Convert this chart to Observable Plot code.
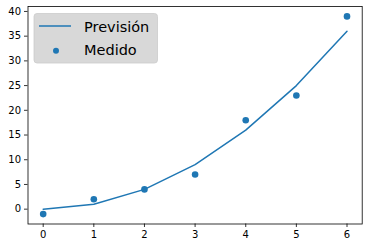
<!DOCTYPE html>
<html><head><meta charset="utf-8">
<script src="https://cdn.jsdelivr.net/npm/d3@7"></script>
<script src="https://cdn.jsdelivr.net/npm/@observablehq/plot@0.6"></script>
<style>
html,body{margin:0;padding:0;background:#fff;}
#chart{position:relative;width:368px;height:248px;}
</style>
</head><body><div id="chart"></div>
<script>
const xs = [0, 1, 2, 3, 4, 5, 6];
const prevision = [0, 1, 4, 9, 16, 25, 36];
const medido = [-1, 2, 4, 7, 18, 23, 39];
const xTicks = [0, 1, 2, 3, 4, 5, 6];
const yTicks = [0, 5, 10, 15, 20, 25, 30, 35, 40];
const seriesNames = ["Previsión", "Medido"];

const lineData = xs.map((x, i) => ({x, y: prevision[i]}));
const dotData = xs.map((x, i) => ({x, y: medido[i]}));
const blue = "#1f77b4";

const plot = Plot.plot({
  width: 368, height: 248,
  marginLeft: 27.5, marginRight: 6.3, marginTop: 6, marginBottom: 24.5,
  style: {fontFamily: "DejaVu Sans", fontSize: "10px", color: "#000", background: "#fff"},
  x: {domain: [-0.3, 6.3], label: null},
  y: {domain: [-3, 41], label: null},
  marks: [
    Plot.line(lineData, {x: "x", y: "y", stroke: blue, strokeWidth: 1.5}),
    Plot.dot(dotData, {x: "x", y: "y", fill: blue, r: 3.3}),
    Plot.frame({stroke: "#000", strokeWidth: 0.8}),
    Plot.axisX({ticks: xTicks, tickFormat: "d", tickSize: 3.5, tickPadding: 3, stroke: "#000", strokeWidth: 0.8, fill: "#000", label: null}),
    Plot.axisY({ticks: yTicks, tickFormat: "d", tickSize: 3.5, tickPadding: 3.5, stroke: "#000", strokeWidth: 0.8, fill: "#000", label: null})
  ]
});
document.getElementById("chart").appendChild(plot);

// legend
const svg = d3.select(plot);
const g = svg.append("g").attr("font-family", "DejaVu Sans").attr("font-size", "14.5px").attr("text-anchor", "start");
g.append("rect").attr("x", 34).attr("y", 13.5).attr("width", 123.5).attr("height", 49.5)
  .attr("rx", 3).attr("fill", "#d8d8d8").attr("stroke", "#cccccc").attr("stroke-width", 0.8);
g.append("line").attr("x1", 39).attr("x2", 71).attr("y1", 26).attr("y2", 26)
  .attr("stroke", blue).attr("stroke-width", 1.5);
g.append("circle").attr("cx", 56).attr("cy", 50.7).attr("r", 3).attr("fill", blue);
g.append("text").attr("x", 84).attr("y", 32).attr("fill", "#000").text(seriesNames[0]);
g.append("text").attr("x", 84).attr("y", 55).attr("fill", "#000").text(seriesNames[1]);
</script></body></html>
